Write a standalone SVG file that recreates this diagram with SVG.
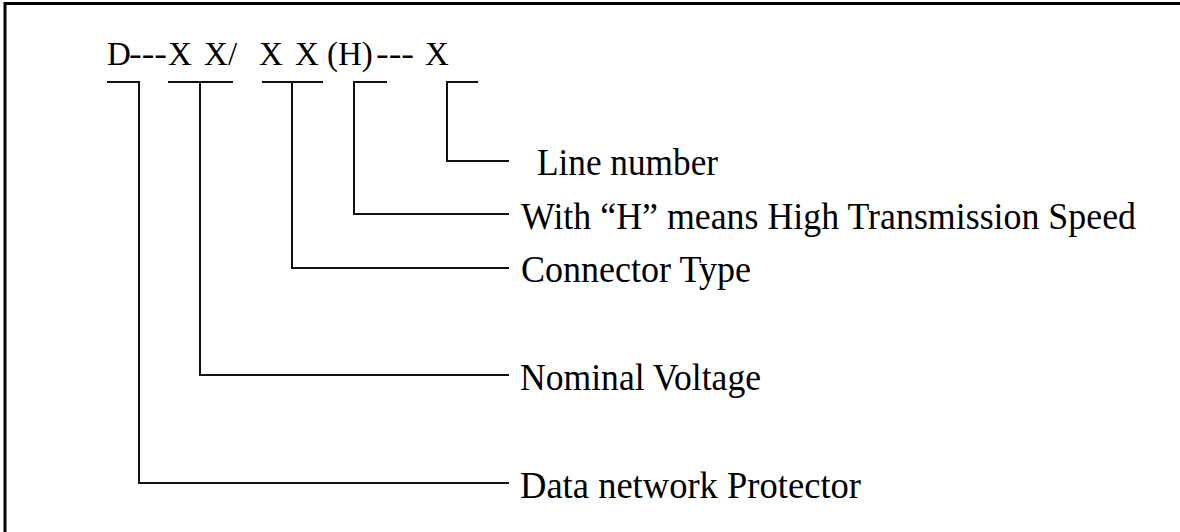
<svg xmlns="http://www.w3.org/2000/svg" width="1180" height="532" viewBox="0 0 1180 532">
<style>
  .t { font-family: "Liberation Serif", "Times New Roman", serif; fill: #000; }
  .title { font-size: 33px; }
  .lbl { font-size: 37px; }
  .ln { fill: none; stroke: #111; stroke-width: 2; }
  .frame { fill: none; stroke: #000; stroke-width: 3; }
</style>
<rect x="0" y="0" width="1180" height="532" fill="#fff"/>
<path class="frame" d="M5,532 V3.5 H1180"/>
<g id="code">
  <text class="t title" y="65"><tspan x="107">D</tspan><tspan x="129" textLength="38" lengthAdjust="spacingAndGlyphs">---</tspan><tspan x="168">X</tspan><tspan x="204">X</tspan><tspan x="228">/</tspan><tspan x="259">X</tspan><tspan x="295">X</tspan><tspan x="327">(H)</tspan><tspan x="376" textLength="38" lengthAdjust="spacingAndGlyphs">---</tspan><tspan x="425">X</tspan></text>
</g>
<g id="connectors">
  <path class="ln" d="M107,82 H139 V483 H509"/>
  <path class="ln" d="M168,82 H233 M200,82 V375 H509"/>
  <path class="ln" d="M262,82 H323 M292,82 V268 H509"/>
  <path class="ln" d="M387,82 H354 V214 H509"/>
  <path class="ln" d="M478,82 H447 V161 H509"/>
</g>
<g id="line-number">
  <text class="t lbl" x="537" y="175" textLength="181" lengthAdjust="spacingAndGlyphs">Line number</text>
</g>
<g id="high-speed">
  <text class="t lbl" x="521" y="229" textLength="615" lengthAdjust="spacingAndGlyphs">With “H” means High Transmission Speed</text>
</g>
<g id="connector-type">
  <text class="t lbl" x="521" y="282" textLength="230" lengthAdjust="spacingAndGlyphs">Connector Type</text>
</g>
<g id="nominal-voltage">
  <text class="t lbl" x="520" y="390" textLength="241" lengthAdjust="spacingAndGlyphs">Nominal Voltage</text>
</g>
<g id="protector">
  <text class="t lbl" x="520" y="498" textLength="341" lengthAdjust="spacingAndGlyphs">Data network Protector</text>
</g>
</svg>
